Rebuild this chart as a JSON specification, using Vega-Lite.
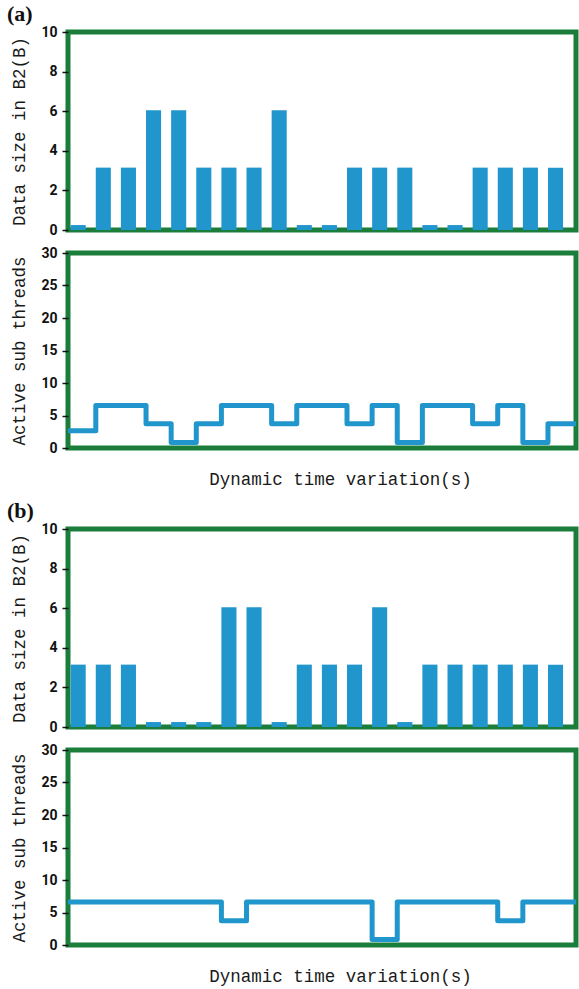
{
  "$schema": "https://vega.github.io/schema/vega-lite/v6.json",
  "background": "white",
  "padding": {"left": 4, "top": 0, "right": 0, "bottom": 0},
  "spacing": 7,
  "config": {
    "view": {"stroke": "#1b7d3a", "strokeWidth": 5},
    "axis": {
      "labelFont": "Roboto",
      "labelFontWeight": "bold",
      "labelFontSize": 14,
      "labelColor": "#111111",
      "titleFont": "Liberation Mono",
      "titleFontWeight": "normal",
      "titleFontSize": 17.5,
      "titleColor": "#1a1a1a",
      "tickColor": "#111111",
      "tickWidth": 1.5,
      "domain": false,
      "grid": false
    },
    "title": {"font": "Liberation Serif", "fontWeight": "bold", "fontSize": 22, "anchor": "start", "color": "#111111"}
  },
  "datasets": {
    "barsA": [
      {"slot": 1, "size": 0.25}, {"slot": 2, "size": 3.15}, {"slot": 3, "size": 3.15}, {"slot": 4, "size": 6.05},
      {"slot": 5, "size": 6.05}, {"slot": 6, "size": 3.15}, {"slot": 7, "size": 3.15}, {"slot": 8, "size": 3.15},
      {"slot": 9, "size": 6.05}, {"slot": 10, "size": 0.25}, {"slot": 11, "size": 0.25}, {"slot": 12, "size": 3.15},
      {"slot": 13, "size": 3.15}, {"slot": 14, "size": 3.15}, {"slot": 15, "size": 0.25}, {"slot": 16, "size": 0.25},
      {"slot": 17, "size": 3.15}, {"slot": 18, "size": 3.15}, {"slot": 19, "size": 3.15}, {"slot": 20, "size": 3.15}
    ],
    "barsB": [
      {"slot": 1, "size": 3.15}, {"slot": 2, "size": 3.15}, {"slot": 3, "size": 3.15}, {"slot": 4, "size": 0.25},
      {"slot": 5, "size": 0.25}, {"slot": 6, "size": 0.25}, {"slot": 7, "size": 6.05}, {"slot": 8, "size": 6.05},
      {"slot": 9, "size": 0.25}, {"slot": 10, "size": 3.15}, {"slot": 11, "size": 3.15}, {"slot": 12, "size": 3.15},
      {"slot": 13, "size": 6.05}, {"slot": 14, "size": 0.25}, {"slot": 15, "size": 3.15}, {"slot": 16, "size": 3.15},
      {"slot": 17, "size": 3.15}, {"slot": 18, "size": 3.15}, {"slot": 19, "size": 3.15}, {"slot": 20, "size": 3.15}
    ],
    "lineA": [
      {"t": -0.107, "threads": 2.65}, {"t": 1, "threads": 6.55}, {"t": 3, "threads": 3.75}, {"t": 4, "threads": 0.85},
      {"t": 5, "threads": 3.75}, {"t": 6, "threads": 6.55}, {"t": 8, "threads": 3.75}, {"t": 9, "threads": 6.55},
      {"t": 11, "threads": 3.75}, {"t": 12, "threads": 6.55}, {"t": 13, "threads": 0.85}, {"t": 14, "threads": 6.55},
      {"t": 16, "threads": 3.75}, {"t": 17, "threads": 6.55}, {"t": 18, "threads": 0.85}, {"t": 19, "threads": 3.75},
      {"t": 20.116, "threads": 3.75}
    ],
    "lineB": [
      {"t": -0.107, "threads": 6.6}, {"t": 6, "threads": 3.75}, {"t": 7, "threads": 6.6}, {"t": 12, "threads": 0.85},
      {"t": 13, "threads": 6.6}, {"t": 17, "threads": 3.75}, {"t": 18, "threads": 6.6}, {"t": 20.116, "threads": 6.6}
    ]
  },
  "vconcat": [
    {
      "bounds": "flush",
      "spacing": 23,
      "vconcat": [
        {
          "title": {"text": "(a)", "frame": "bounds", "offset": -1, "dx": -4},
          "width": 508,
          "height": 198,
          "data": {"name": "barsA"},
          "mark": {"type": "bar", "color": "#2196cc"},
          "encoding": {
            "x": {"field": "slot", "type": "ordinal", "axis": null, "scale": {"paddingInner": 0.4, "paddingOuter": 0.31, "align": 0.17}},
            "y": {"field": "size", "type": "quantitative", "scale": {"domain": [0, 10]},
                  "axis": {"values": [0, 2, 4, 6, 8, 10], "title": "Data size in B2(B)", "tickSize": 6, "labelPadding": 5, "titlePadding": 12}}
          }
        },
        {
          "width": 508,
          "height": 195,
          "data": {"name": "lineA"},
          "mark": {"type": "line", "interpolate": "step-after", "strokeWidth": 5, "strokeJoin": "round", "color": "#2196cc", "clip": true},
          "encoding": {
            "x": {"field": "t", "type": "quantitative", "scale": {"domain": [-0.107, 20.116], "nice": false, "zero": false},
                  "axis": {"title": "Dynamic time variation(s)", "labels": false, "ticks": false, "titleX": 272, "titleY": 36, "titleBaseline": "alphabetic"}},
            "y": {"field": "threads", "type": "quantitative", "scale": {"domain": [0, 30]},
                  "axis": {"values": [0, 5, 10, 15, 20, 25, 30], "title": "Active sub threads", "tickSize": 6, "labelPadding": 5, "titlePadding": 12}}
          }
        }
      ]
    },
    {
      "bounds": "flush",
      "spacing": 23,
      "vconcat": [
        {
          "title": {"text": "(b)", "frame": "bounds", "offset": -1, "dx": -4},
          "width": 508,
          "height": 198,
          "data": {"name": "barsB"},
          "mark": {"type": "bar", "color": "#2196cc"},
          "encoding": {
            "x": {"field": "slot", "type": "ordinal", "axis": null, "scale": {"paddingInner": 0.4, "paddingOuter": 0.31, "align": 0.17}},
            "y": {"field": "size", "type": "quantitative", "scale": {"domain": [0, 10]},
                  "axis": {"values": [0, 2, 4, 6, 8, 10], "title": "Data size in B2(B)", "tickSize": 6, "labelPadding": 5, "titlePadding": 12}}
          }
        },
        {
          "width": 508,
          "height": 195,
          "data": {"name": "lineB"},
          "mark": {"type": "line", "interpolate": "step-after", "strokeWidth": 5, "strokeJoin": "round", "color": "#2196cc", "clip": true},
          "encoding": {
            "x": {"field": "t", "type": "quantitative", "scale": {"domain": [-0.107, 20.116], "nice": false, "zero": false},
                  "axis": {"title": "Dynamic time variation(s)", "labels": false, "ticks": false, "titleX": 272, "titleY": 36, "titleBaseline": "alphabetic"}},
            "y": {"field": "threads", "type": "quantitative", "scale": {"domain": [0, 30]},
                  "axis": {"values": [0, 5, 10, 15, 20, 25, 30], "title": "Active sub threads", "tickSize": 6, "labelPadding": 5, "titlePadding": 12}}
          }
        }
      ]
    }
  ]
}
